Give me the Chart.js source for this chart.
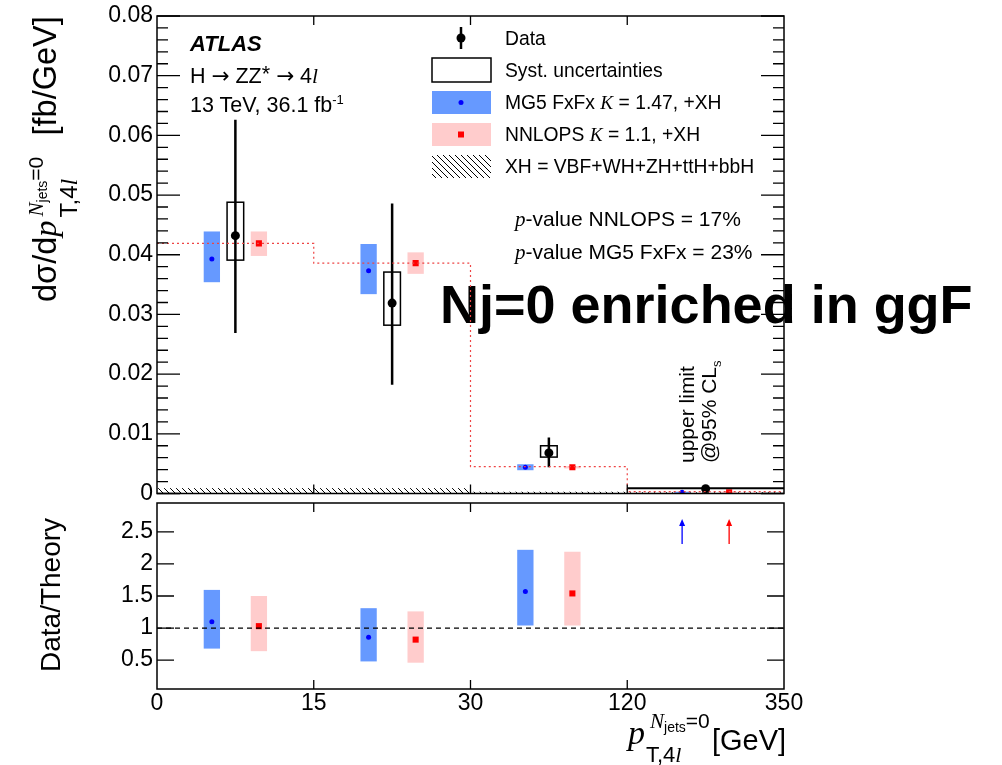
<!DOCTYPE html>
<html>
<head>
<meta charset="utf-8">
<script src="https://cdn.jsdelivr.net/npm/chart.js@4.4.0/dist/chart.umd.min.js"></script>
<style>
body { margin: 0; background: #fff; width: 1002px; height: 765px; overflow: hidden; position: relative;
       font-family: 'Liberation Sans', Arial, sans-serif; color: #000; }
canvas { position: absolute; left: 0; z-index: 2; }
#main { top: 0; }
#ratio { top: 480px; }
.t { position: absolute; white-space: nowrap; line-height: 1; z-index: 3; }
.m { font-family: 'Liberation Serif', 'Times New Roman', serif; font-style: italic; }
.ar { font-family: 'DejaVu Sans', sans-serif; }
.rot { transform: rotate(-90deg); transform-origin: 0 0; }
#big { z-index: 1; font-weight: bold; }
</style>
</head>
<body>
<canvas id="main" width="1002" height="510"></canvas>
<canvas id="ratio" width="1002" height="285"></canvas>

<script>
// bins: 0-15, 15-30, 30-120, 120-350 GeV, drawn with equal width
const binLabels = ['0', '15', '30', '120', '350'];
const mgX   = [0.35, 1.35, 2.35, 3.35];
const dataX = [0.5, 1.5, 2.5, 3.5];
const nnX   = [0.65, 1.65, 2.65, 3.65];

// data
const dataY      = [0.0432, 0.0319, 0.0068, 0.0008];
const dataStatLo = [0.0269, 0.0182, 0.0044];
const dataStatHi = [0.0626, 0.0486, 0.0094];
const dataSystLo = [0.0391, 0.0282, 0.0061];
const dataSystHi = [0.0488, 0.0371, 0.0080];
const limitBin4  = 0.0009;

// MG5 FxFx
const mgY  = [0.0393, 0.0373, 0.0044, 0.0002];
const mgLo = [0.0354, 0.0334, 0.0039, 0.0001];
const mgHi = [0.0439, 0.0418, 0.0049, 0.0003];

// NNLOPS
const nnY    = [0.0419, 0.0386, 0.0044, 0.0002];
const nnLo   = [0.0398, 0.0368, 0.0042, 0.0001];
const nnHi   = [0.0439, 0.0404, 0.0046, 0.0003];
const nnStep = [0.0419, 0.0386, 0.0045, 0.0003];

// XH
const xhY = [0.0009, 0.0009, 0.0003, 0.0002];

// ratio panel
const mgRatio   = [1.10, 0.855, 1.57];
const mgRatioLo = [0.68, 0.48, 1.04];
const mgRatioHi = [1.595, 1.31, 2.22];
const nnRatio   = [1.03, 0.82, 1.54];
const nnRatioLo = [0.64, 0.46, 1.04];
const nnRatioHi = [1.50, 1.26, 2.19];
const arrowLo = 2.31, arrowHi = 2.70;

const mainTicks  = [0, 0.01, 0.02, 0.03, 0.04, 0.05, 0.06, 0.07, 0.08];
const ratioTicks = [0.5, 1, 1.5, 2, 2.5];

const BLUE_BAND = '#6699ff', PINK_BAND = '#ffcccc';
const FONT = 'Liberation Sans';
const halfW = 0.052;

const hatchTile = document.createElement('canvas');
hatchTile.width = hatchTile.height = 6;
(function () {
    const g = hatchTile.getContext('2d');
    g.strokeStyle = '#000';
    g.lineWidth = 1;
    g.beginPath();
    g.moveTo(-1, -1); g.lineTo(7, 7);
    g.moveTo(-1, 5); g.lineTo(1, 7);
    g.moveTo(5, -1); g.lineTo(7, 1);
    g.stroke();
})();

function bands(ctx, x, y, xs, lo, hi, color) {
    ctx.fillStyle = color;
    for (let i = 0; i < lo.length; i++) {
        const l = x.getPixelForValue(xs[i] - halfW), r = x.getPixelForValue(xs[i] + halfW);
        const t = y.getPixelForValue(hi[i]), b = y.getPixelForValue(lo[i]);
        ctx.fillRect(l, t, r - l, b - t);
    }
}

// ticks drawn inward, frame on all four sides
function frameAndTicks(chart, majors, minors, majLen, minLen) {
    const { ctx, chartArea: a, scales: { x, y } } = chart;
    ctx.save();
    ctx.strokeStyle = '#000';
    ctx.lineWidth = 1.5;
    ctx.strokeRect(a.left, a.top, a.right - a.left, a.bottom - a.top);
    ctx.lineWidth = 1.3;
    ctx.beginPath();
    majors.forEach(v => {
        const p = y.getPixelForValue(v);
        ctx.moveTo(a.left, p); ctx.lineTo(a.left + majLen, p);
        ctx.moveTo(a.right, p); ctx.lineTo(a.right - majLen, p);
    });
    minors.forEach(v => {
        const p = y.getPixelForValue(v);
        ctx.moveTo(a.left, p); ctx.lineTo(a.left + minLen, p);
        ctx.moveTo(a.right, p); ctx.lineTo(a.right - minLen, p);
    });
    [1, 2, 3].forEach(v => {
        const p = x.getPixelForValue(v);
        ctx.moveTo(p, a.bottom); ctx.lineTo(p, a.bottom - 9);
        ctx.moveTo(p, a.top); ctx.lineTo(p, a.top + 9);
    });
    ctx.stroke();
    ctx.restore();
}

const mainPlugin = {
    id: 'mainPlugin',
    beforeDatasetsDraw(chart) {
        const { ctx, scales: { x, y } } = chart;
        ctx.save();
        // XH hatched
        ctx.fillStyle = ctx.createPattern(hatchTile, 'repeat');
        xhY.forEach((v, i) => {
            const l = x.getPixelForValue(i), r = x.getPixelForValue(i + 1);
            const t = y.getPixelForValue(v), b = y.getPixelForValue(0);
            ctx.fillRect(l, t, r - l, b - t);
        });
        bands(ctx, x, y, mgX, mgLo, mgHi, BLUE_BAND);
        bands(ctx, x, y, nnX, nnLo, nnHi, PINK_BAND);
        // syst boxes
        ctx.strokeStyle = '#000';
        ctx.lineWidth = 1.5;
        dataSystLo.forEach((lo, i) => {
            const l = x.getPixelForValue(dataX[i] - 0.053), r = x.getPixelForValue(dataX[i] + 0.053);
            const t = y.getPixelForValue(dataSystHi[i]), b = y.getPixelForValue(lo);
            ctx.strokeRect(l, t, r - l, b - t);
        });
        // stat error bars
        ctx.lineWidth = 2.5;
        ctx.beginPath();
        dataStatLo.forEach((lo, i) => {
            const px = x.getPixelForValue(dataX[i]);
            ctx.moveTo(px, y.getPixelForValue(dataStatHi[i]));
            ctx.lineTo(px, y.getPixelForValue(lo));
        });
        ctx.stroke();
        ctx.restore();
    },
    afterDraw(chart) {
        const minors = [];
        for (let k = 1; k < 40; k++) if (k % 5) minors.push(k * 0.002);
        frameAndTicks(chart, mainTicks, minors, 23, 11);
        // legend symbols
        const ctx = chart.ctx;
        ctx.save();
        ctx.lineWidth = 2.5;
        ctx.strokeStyle = '#000';
        ctx.beginPath(); ctx.moveTo(461, 27); ctx.lineTo(461, 49); ctx.stroke();
        ctx.fillStyle = '#000';
        ctx.beginPath(); ctx.arc(461, 38, 4.5, 0, Math.PI * 2); ctx.fill();
        ctx.lineWidth = 1.5;
        ctx.strokeRect(432, 58, 59, 24);
        ctx.fillStyle = BLUE_BAND; ctx.fillRect(432, 91, 59, 23);
        ctx.fillStyle = '#0000ff';
        ctx.beginPath(); ctx.arc(461, 102.5, 2.5, 0, Math.PI * 2); ctx.fill();
        ctx.fillStyle = PINK_BAND; ctx.fillRect(432, 123, 59, 23);
        ctx.fillStyle = '#ff0000'; ctx.fillRect(458, 131.5, 6, 6);
        ctx.fillStyle = ctx.createPattern(hatchTile, 'repeat');
        ctx.fillRect(432, 155, 59, 23);
        ctx.restore();
    }
};

const ratioPlugin = {
    id: 'ratioPlugin',
    beforeDatasetsDraw(chart) {
        const { ctx, scales: { x, y } } = chart;
        ctx.save();
        bands(ctx, x, y, mgX, mgRatioLo, mgRatioHi, BLUE_BAND);
        bands(ctx, x, y, nnX, nnRatioLo, nnRatioHi, PINK_BAND);
        // arrows for the last bin
        [[mgX[3], '#0000ff'], [nnX[3], '#ff0000']].forEach(([xv, col]) => {
            const px = x.getPixelForValue(xv);
            const y0 = y.getPixelForValue(arrowLo), y1 = y.getPixelForValue(arrowHi);
            ctx.strokeStyle = col; ctx.fillStyle = col; ctx.lineWidth = 1.3;
            ctx.beginPath(); ctx.moveTo(px, y0); ctx.lineTo(px, y1 + 5); ctx.stroke();
            ctx.beginPath(); ctx.moveTo(px, y1); ctx.lineTo(px - 3, y1 + 7); ctx.lineTo(px + 3, y1 + 7); ctx.closePath(); ctx.fill();
        });
        ctx.restore();
    },
    afterDraw(chart) {
        frameAndTicks(chart, ratioTicks, [], 17, 0);
    }
};

const pts = (xs, ys) => ys.map((v, i) => ({ x: xs[i], y: v }));

new Chart(document.getElementById('main'), {
    type: 'scatter',
    data: {
        datasets: [
            {
                type: 'line',
                data: nnStep.map((v, i) => ({ x: i, y: v })).concat({ x: 4, y: nnStep[3] }),
                stepped: 'before',
                borderColor: '#ee4444',
                borderWidth: 1.2,
                borderDash: [2, 3],
                pointRadius: 0,
                fill: false
            },
            {
                type: 'line',
                data: [{ x: 3, y: limitBin4 }, { x: 4, y: limitBin4 }],
                borderColor: '#000',
                borderWidth: 2,
                pointRadius: 0
            },
            { data: pts(mgX, mgY), pointStyle: 'circle', pointRadius: 2.5, backgroundColor: '#0000ff', borderWidth: 0 },
            { data: pts(nnX, nnY), pointStyle: 'rect', pointRadius: 4.3, backgroundColor: '#ff0000', borderWidth: 0 },
            { data: pts(dataX, dataY), pointStyle: 'circle', pointRadius: 4.5, backgroundColor: '#000', borderWidth: 0 }
        ]
    },
    options: {
        responsive: false,
        animation: false,
        events: [],
        layout: { padding: { left: 0, top: 16, right: 218, bottom: 16.5 } },
        plugins: { legend: { display: false }, tooltip: { enabled: false } },
        scales: {
            x: { type: 'linear', min: 0, max: 4, display: false },
            y: {
                min: 0, max: 0.08,
                afterFit(s) { s.width = 157; },
                afterBuildTicks(s) { s.ticks = mainTicks.map(v => ({ value: v })); },
                grid: { display: false, drawTicks: false },
                border: { display: false },
                ticks: {
                    padding: 4, color: '#000',
                    font: { family: FONT, size: 23, lineHeight: 1 },
                    callback: v => (v === 0 ? '0' : v.toFixed(2))
                }
            }
        }
    },
    plugins: [mainPlugin]
});

new Chart(document.getElementById('ratio'), {
    type: 'scatter',
    data: {
        datasets: [
            {
                type: 'line',
                data: [{ x: 0, y: 1 }, { x: 4, y: 1 }],
                borderColor: '#000',
                borderWidth: 1.3,
                borderDash: [5, 4],
                pointRadius: 0
            },
            { data: pts(mgX, mgRatio), pointStyle: 'circle', pointRadius: 2.5, backgroundColor: '#0000ff', borderWidth: 0 },
            { data: pts(nnX, nnRatio), pointStyle: 'rect', pointRadius: 4.3, backgroundColor: '#ff0000', borderWidth: 0 }
        ]
    },
    options: {
        responsive: false,
        animation: false,
        events: [],
        layout: { padding: { left: 0, top: 23, right: 218, bottom: 0 } },
        plugins: { legend: { display: false }, tooltip: { enabled: false } },
        scales: {
            x: {
                type: 'linear', min: 0, max: 4,
                afterFit(s) { s.height = 76; },
                afterBuildTicks(s) { s.ticks = binLabels.map((l, i) => ({ value: i })); },
                grid: { display: false, drawTicks: false },
                border: { display: false },
                ticks: {
                    padding: 3, color: '#000', maxRotation: 0, autoSkip: false,
                    font: { family: FONT, size: 23, lineHeight: 1 },
                    callback: v => binLabels[v]
                }
            },
            y: {
                min: 0.05, max: 2.95,
                afterFit(s) { s.width = 157; },
                afterBuildTicks(s) { s.ticks = ratioTicks.map(v => ({ value: v })); },
                grid: { display: false, drawTicks: false },
                border: { display: false },
                ticks: {
                    padding: 4, color: '#000',
                    font: { family: FONT, size: 23, lineHeight: 1 },
                    callback: v => String(v)
                }
            }
        }
    },
    plugins: [ratioPlugin]
});

// text
function txt(html, x, base, size, extra) {
    const d = document.createElement('div');
    d.className = 't';
    d.innerHTML = html;
    d.style.left = x + 'px';
    d.style.top = (base - 0.8465 * size) + 'px';
    d.style.fontSize = size + 'px';
    if (extra) Object.assign(d.style, extra);
    document.body.appendChild(d);
    return d;
}

txt('ATLAS', 190, 52, 22, { fontWeight: 'bold', fontStyle: 'italic' });
txt('H <span class="ar">&rarr;</span> ZZ<span style="position:relative;top:-2px">*</span> <span class="ar">&rarr;</span> 4<span class="m">l</span>', 190, 83, 21.5);
txt('13 TeV, 36.1 fb<sup style="font-size:13px">-1</sup>', 190, 111, 21.5);

txt('Data', 505, 45, 19.3);
txt('Syst. uncertainties', 505, 77, 19.3);
txt('MG5 FxFx <span class="m">K</span> = 1.47, +XH', 505, 109, 19.3);
txt('NNLOPS <span class="m">K</span> = 1.1, +XH', 505, 141, 19.3);
txt('XH = VBF+WH+ZH+ttH+bbH', 505, 173, 19.3);
txt('<span class="m">p</span>-value NNLOPS = 17%', 515, 226, 21);
txt('<span class="m">p</span>-value MG5 FxFx = 23%', 515, 259, 21);

const big = txt('Nj=0 enriched in ggF', 440, 323, 54);
big.id = 'big';

// rotated labels
const ul = txt('upper limit<br>@95% CL<sub style="font-size:13px">s</sub>', 676, 463, 21, { lineHeight: '22px' });
ul.classList.add('rot');
ul.style.top = '463px';

const dt = txt('Data/Theory', 36.5, 672, 28);
dt.classList.add('rot');
dt.style.top = '672px';

const yt = txt('d&sigma;/d<span class="m">p</span>' +
    '<span style="display:inline-block;position:relative;width:76px;height:10px">' +
    '<span style="position:absolute;left:4px;top:-21px;font-size:21px;line-height:1"><span class="m">N</span>' +
    '<span style="font-size:14px;position:relative;top:4px">jets</span>=0</span>' +
    '<span style="position:absolute;left:3px;top:11px;font-size:24px;line-height:1">T,4<span class="m">l</span></span>' +
    '</span> [fb/GeV]', 29, 302, 32.5);
yt.classList.add('rot');
yt.style.left = '29px';
yt.style.top = '302px';

// x-axis title
txt('p', 628, 745, 34, { fontFamily: "'Liberation Serif', serif", fontStyle: 'italic' });
txt('<span class="m">N</span><span style="font-size:14px;position:relative;top:4px">jets</span>=0', 650, 728, 21);
txt('T,4<span class="m">l</span>', 646, 763, 22);
txt('[GeV]', 712, 751, 29);
</script>
</body>
</html>
